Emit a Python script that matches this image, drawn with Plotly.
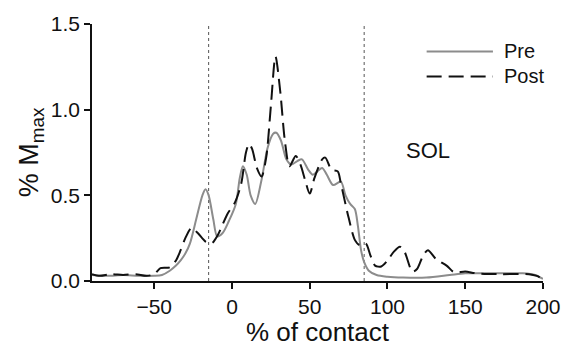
import plotly.graph_objects as go

# ---- data ----
pre_x = [-90, -80, -70, -60, -50, -45, -40, -36, -33, -30, -27, -23, -19, -17, -15, -12, -9.5,
         -6, -2, 2.5, 5, 7, 9.5, 12, 15, 19, 23, 26.5, 28.5, 31.5, 35, 38, 42, 45, 49, 52, 55, 58,
         61, 65, 70, 73, 76, 79, 81, 83, 85, 88, 93, 100, 110, 125, 140, 150, 170, 187, 195, 200]
pre_y = [0.035, 0.03, 0.035, 0.03, 0.03, 0.035, 0.06, 0.09, 0.12, 0.16, 0.22, 0.36, 0.5, 0.535, 0.5, 0.36, 0.26,
         0.28, 0.35, 0.45, 0.6, 0.67, 0.62, 0.5, 0.45, 0.59, 0.78, 0.86, 0.865, 0.82, 0.71, 0.68, 0.70, 0.71, 0.65, 0.62, 0.64, 0.66,
         0.62, 0.56, 0.58, 0.5, 0.45, 0.42, 0.32, 0.18, 0.11, 0.06, 0.035, 0.025, 0.02, 0.02, 0.035, 0.045, 0.045, 0.045, 0.035, 0.012]

post_x = [-90, -85, -78, -70, -62, -55, -50, -46, -40, -36, -33, -30, -26, -22, -17, -13, -9,
          -3, 2, 6, 9, 11, 13, 16, 19, 22, 25, 28, 31, 34, 37, 41, 44, 47, 50, 53, 58, 60, 64,
          68, 70, 75, 79, 82, 86, 89, 92, 96, 100, 104, 108, 111, 116, 119, 123, 126, 131, 138,
          143, 150, 157, 172, 191, 196, 200]
post_y = [0.04, 0.03, 0.04, 0.035, 0.04, 0.03, 0.04, 0.075, 0.08, 0.12, 0.18, 0.25, 0.31, 0.28, 0.23, 0.22, 0.27,
          0.39, 0.46, 0.57, 0.75, 0.8, 0.77, 0.66, 0.61, 0.72, 1.02, 1.31, 1.11, 0.82, 0.67, 0.73, 0.68, 0.59, 0.51, 0.6, 0.71, 0.72, 0.65,
          0.64, 0.57, 0.37, 0.24, 0.21, 0.22, 0.15, 0.09, 0.085, 0.12, 0.17, 0.2, 0.17, 0.055, 0.07, 0.15, 0.18, 0.13, 0.09,
          0.05, 0.055, 0.045, 0.04, 0.04, 0.03, 0.01]

series_names = ["Pre", "Post"]
phase_lines = [-15, 85]
x_ticks = [-50, 0, 50, 100, 150, 200]
y_ticks = [0.0, 0.5, 1.0, 1.5]
muscle_label = "SOL"

FONT = "Liberation Sans, Arial, sans-serif"
PRE_COLOR = "#8c8c8c"
POST_COLOR = "#111111"
POST_DASH = "15px,7px"

fig = go.Figure()
fig.add_trace(go.Scatter(x=pre_x, y=pre_y, mode="lines", name=series_names[0],
                         line=dict(color=PRE_COLOR, width=2, shape="spline", smoothing=0.8)))
fig.add_trace(go.Scatter(x=post_x, y=post_y, mode="lines", name=series_names[1],
                         line=dict(color=POST_COLOR, width=2, dash=POST_DASH, shape="spline", smoothing=0.8)))

for xv in phase_lines:
    fig.add_shape(type="line", xref="x", yref="paper", x0=xv, x1=xv, y0=0, y1=1,
                  line=dict(color="#555555", width=1, dash="dot"), layer="below")

# manual legend
legend_rows = [(0.893, PRE_COLOR, "solid"), (0.796, POST_COLOR, POST_DASH)]
for (yy, col, dash), name in zip(legend_rows, series_names):
    fig.add_shape(type="line", xref="paper", yref="paper", x0=0.742, x1=0.889, y0=yy, y1=yy,
                  line=dict(color=col, width=2, dash=dash))
    fig.add_annotation(xref="paper", yref="paper", x=0.91, y=yy, text=name, showarrow=False,
                       xanchor="left", yanchor="middle", font=dict(size=20, color="#111111", family=FONT))

fig.add_annotation(x=126, y=0.76, xref="x", yref="y", text=muscle_label, showarrow=False,
                   font=dict(size=22, color="#111111", family=FONT))

axis_common = dict(showline=True, linecolor="#111111", linewidth=1.5, ticks="outside", ticklen=6,
                   tickwidth=1.5, tickcolor="#111111", showgrid=False, zeroline=False, automargin=False,
                   tickfont=dict(size=21, color="#111111", family=FONT), mirror=False)

fig.update_layout(
    width=563, height=347,
    margin=dict(l=92, r=20, t=24, b=66),
    paper_bgcolor="white", plot_bgcolor="white",
    showlegend=False,
    font=dict(family=FONT, color="#111111"),
    xaxis=dict(range=[-90, 200], tickvals=x_ticks,
               ticktext=[("\u2212" + str(-v)) if v < 0 else str(v) for v in x_ticks],
               ticklabelstandoff=0,
               title=dict(text="% of contact", font=dict(size=26, family=FONT, color="#111111"), standoff=16),
               **axis_common),
    yaxis=dict(range=[0, 1.5], tickvals=y_ticks, ticktext=[f"{v:.1f}" for v in y_ticks],
               title=dict(text="% M<sub>max</sub>", font=dict(size=27, family=FONT, color="#111111"), standoff=4),
               **axis_common),
)

fig.write_html("out.html")
